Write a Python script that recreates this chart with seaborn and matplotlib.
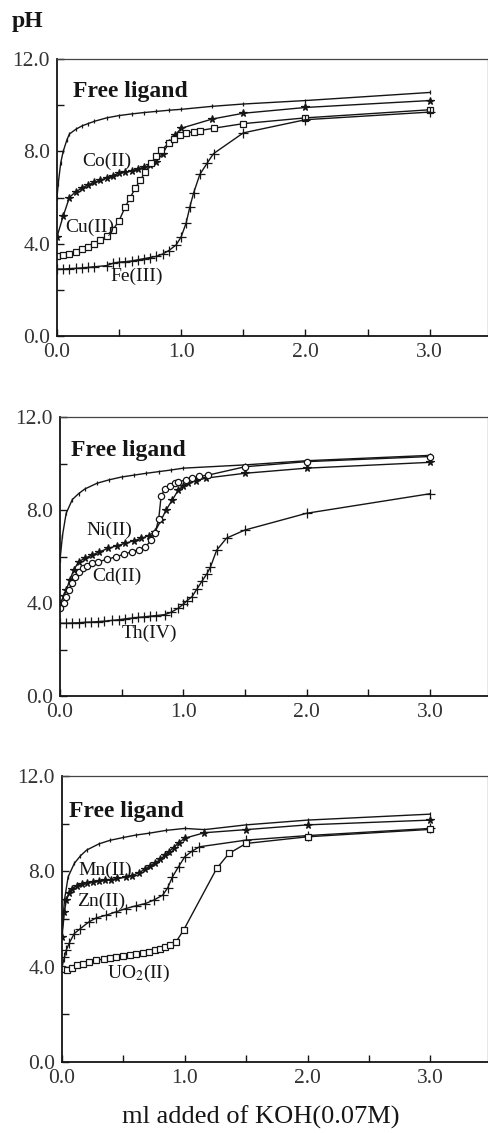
import matplotlib
matplotlib.use("Agg")
import matplotlib.pyplot as plt
from matplotlib.ticker import MultipleLocator
import seaborn as sns

# ---- panel 1: Co, Cu, Fe ----
free1_x = [0.0, 0.01, 0.03, 0.05, 0.08, 0.1, 0.15, 0.2, 0.25, 0.3, 0.4, 0.5, 0.6, 0.7, 0.8, 0.9, 1.0, 1.25, 1.5, 2.0, 3.0]
free1_y = [6.0, 6.6, 7.5, 8.0, 8.5, 8.75, 8.95, 9.1, 9.2, 9.3, 9.45, 9.55, 9.62, 9.68, 9.73, 9.78, 9.82, 9.95, 10.05, 10.2, 10.55]
co_x = [0.0, 0.05, 0.1, 0.15, 0.2, 0.25, 0.3, 0.35, 0.4, 0.45, 0.5, 0.55, 0.6, 0.65, 0.7, 0.75, 0.8, 0.85, 0.9, 0.95, 1.0, 1.25, 1.5, 2.0, 3.0]
co_y = [4.3, 5.2, 6.0, 6.25, 6.4, 6.55, 6.65, 6.75, 6.85, 6.95, 7.05, 7.1, 7.15, 7.25, 7.3, 7.4, 7.55, 7.9, 8.35, 8.7, 9.0, 9.4, 9.65, 9.9, 10.2]
cu_x = [0.0, 0.05, 0.1, 0.15, 0.2, 0.25, 0.3, 0.35, 0.4, 0.45, 0.5, 0.55, 0.59, 0.63, 0.67, 0.71, 0.76, 0.8, 0.84, 0.9, 0.94, 0.99, 1.04, 1.1, 1.15, 1.26, 1.5, 2.0, 3.0]
cu_y = [3.45, 3.5, 3.55, 3.65, 3.75, 3.85, 4.0, 4.15, 4.35, 4.6, 5.0, 5.6, 6.0, 6.4, 6.75, 7.1, 7.5, 7.8, 8.05, 8.35, 8.55, 8.7, 8.8, 8.85, 8.9, 9.0, 9.2, 9.45, 9.8]
fe_x = [0.0, 0.05, 0.1, 0.15, 0.2, 0.25, 0.3, 0.4, 0.45, 0.5, 0.55, 0.6, 0.65, 0.7, 0.75, 0.8, 0.85, 0.9, 0.96, 1.0, 1.04, 1.07, 1.1, 1.15, 1.21, 1.26, 1.5, 2.0, 3.0]
fe_y = [2.9, 2.9, 2.92, 2.93, 2.95, 2.97, 3.0, 3.05, 3.15, 3.2, 3.22, 3.25, 3.3, 3.35, 3.4, 3.45, 3.55, 3.7, 3.95, 4.3, 4.9, 5.6, 6.2, 7.0, 7.5, 7.9, 8.8, 9.37, 9.7]

# ---- panel 2: Ni, Cd, Th ----
free2_x = [0.0, 0.02, 0.05, 0.1, 0.15, 0.2, 0.3, 0.4, 0.5, 0.6, 0.7, 0.8, 0.9, 1.0, 1.5, 2.0, 3.0]
free2_y = [5.85, 6.9, 7.86, 8.45, 8.7, 8.9, 9.15, 9.3, 9.42, 9.5, 9.58, 9.65, 9.72, 9.8, 9.94, 10.12, 10.35]
ni_x = [0.0, 0.03, 0.05, 0.08, 0.11, 0.15, 0.2, 0.26, 0.32, 0.39, 0.46, 0.53, 0.6, 0.66, 0.72, 0.77, 0.82, 0.86, 0.91, 0.96, 1.0, 1.04, 1.1, 1.18, 1.5, 2.0, 3.0]
ni_y = [3.97, 4.3, 4.55, 5.0, 5.4, 5.77, 5.92, 6.06, 6.2, 6.35, 6.46, 6.57, 6.68, 6.78, 6.9, 7.07, 7.57, 8.0, 8.43, 8.86, 9.05, 9.15, 9.25, 9.37, 9.58, 9.8, 10.05]
cd_x = [0.0, 0.03, 0.05, 0.07, 0.095, 0.12, 0.15, 0.19, 0.22, 0.26, 0.31, 0.38, 0.45, 0.52, 0.58, 0.64, 0.69, 0.74, 0.77, 0.8, 0.82, 0.85, 0.89, 0.93, 0.96, 1.02, 1.07, 1.13, 1.2, 1.5, 2.0, 3.0]
cd_y = [3.77, 4.0, 4.27, 4.55, 4.84, 5.1, 5.34, 5.5, 5.6, 5.7, 5.77, 5.88, 5.98, 6.1, 6.2, 6.3, 6.4, 6.7, 7.0, 7.6, 8.6, 8.9, 9.05, 9.15, 9.2, 9.3, 9.37, 9.45, 9.5, 9.86, 10.08, 10.3]
th_x = [0.0, 0.05, 0.1, 0.15, 0.2, 0.25, 0.31, 0.36, 0.42, 0.48, 0.53, 0.58, 0.63, 0.68, 0.73, 0.78, 0.85, 0.9, 0.96, 1.0, 1.03, 1.07, 1.11, 1.15, 1.19, 1.22, 1.27, 1.35, 1.5, 2.0, 3.0]
th_y = [3.13, 3.13, 3.14, 3.15, 3.17, 3.18, 3.2, 3.22, 3.25, 3.28, 3.32, 3.35, 3.38, 3.4, 3.43, 3.46, 3.5, 3.6, 3.78, 3.95, 4.1, 4.27, 4.6, 4.93, 5.25, 5.55, 6.27, 6.79, 7.14, 7.86, 8.7]

# ---- panel 3: Mn, Zn, UO2 ----
free3_x = [0.0, 0.02, 0.05, 0.1, 0.15, 0.2, 0.3, 0.39, 0.5, 0.6, 0.71, 0.85, 1.0, 1.16, 1.5, 2.0, 3.0]
free3_y = [5.4, 6.8, 7.77, 8.33, 8.65, 8.89, 9.15, 9.3, 9.42, 9.52, 9.6, 9.72, 9.8, 9.75, 9.95, 10.15, 10.4]
mn_x = [0.0, 0.02, 0.035, 0.06, 0.08, 0.12, 0.16, 0.2, 0.25, 0.3, 0.35, 0.4, 0.45, 0.52, 0.57, 0.63, 0.68, 0.72, 0.76, 0.8, 0.84, 0.87, 0.91, 0.95, 1.0, 1.16, 1.5, 2.0, 3.0]
mn_y = [5.26, 6.3, 6.79, 7.1, 7.25, 7.4, 7.48, 7.52, 7.55, 7.58, 7.62, 7.65, 7.7, 7.75, 7.82, 7.95, 8.1, 8.22, 8.35, 8.5, 8.68, 8.82, 9.0, 9.2, 9.39, 9.62, 9.75, 9.95, 10.15]
zn_x = [0.0, 0.02, 0.035, 0.06, 0.1, 0.15, 0.22, 0.28, 0.36, 0.44, 0.52, 0.6, 0.68, 0.75, 0.82, 0.86, 0.9, 0.95, 1.0, 1.06, 1.12, 1.5, 2.0, 3.0]
zn_y = [4.0, 4.4, 4.7, 5.0, 5.39, 5.6, 5.88, 6.05, 6.16, 6.3, 6.44, 6.55, 6.65, 6.8, 7.0, 7.3, 7.77, 8.2, 8.61, 8.85, 9.03, 9.31, 9.5, 9.8]
uo2_x = [0.0, 0.04, 0.08, 0.12, 0.17, 0.22, 0.28, 0.34, 0.39, 0.44, 0.5, 0.55, 0.6, 0.66, 0.71, 0.76, 0.8, 0.84, 0.88, 0.93, 0.99, 1.26, 1.36, 1.5, 2.0, 3.0]
uo2_y = [3.9, 3.88, 3.95, 4.05, 4.13, 4.2, 4.27, 4.32, 4.37, 4.41, 4.45, 4.5, 4.55, 4.58, 4.62, 4.68, 4.75, 4.82, 4.9, 5.05, 5.53, 8.12, 8.75, 9.17, 9.45, 9.76]

sns.set_style("ticks")
plt.rcParams['font.family'] = ['Liberation Serif', 'DejaVu Serif']
plt.rcParams['mathtext.fontset'] = 'stix'

ink = '#151515'
W, H = 489, 1133
fig = plt.figure(figsize=(W / 100, H / 100), dpi=100)


def panel(left, top, bottom):
    ax = fig.add_axes([left / W, 1 - bottom / H, (488 - left) / W, (bottom - top) / H])
    ax.set_xlim(0, 3.47)
    ax.set_ylim(0, 12)
    ax.xaxis.set_major_locator(MultipleLocator(1.0))
    ax.xaxis.set_minor_locator(MultipleLocator(0.5))
    ax.yaxis.set_major_locator(MultipleLocator(4.0))
    ax.yaxis.set_minor_locator(MultipleLocator(2.0))
    ax.set_xticklabels([f"{v:.1f}" for v in ax.get_xticks()])
    ax.set_yticklabels([f"{v:.1f}" for v in ax.get_yticks()])
    ax.tick_params(which='both', direction='in', length=5, width=1, color=ink,
                   labelsize=15.5, labelcolor='#333333', pad=5)
    for s in ['left', 'bottom']:
        ax.spines[s].set_linewidth(1.3)
        ax.spines[s].set_color(ink)
    for s in ['top', 'right']:
        ax.spines[s].set_linewidth(0.9)
        ax.spines[s].set_color('#444444')
    ax.set_xlabel('')
    ax.set_ylabel('')
    return ax


def curve(ax, x, y, marker, ms, mfc=ink, mew=0.9):
    sns.lineplot(x=x, y=y, ax=ax, sort=False, estimator=None, color=ink, lw=1.0,
                 marker=marker, markersize=ms, markerfacecolor=mfc,
                 markeredgecolor=ink, markeredgewidth=mew)


lab = dict(fontsize=14, color=ink, va='center')
free = dict(fontsize=17, fontweight='bold', color=ink, va='center')

# panel 1
ax1 = panel(57, 59, 336)
curve(ax1, free1_x, free1_y, '|', 2.5)
curve(ax1, co_x, co_y, '*', 5.5)
curve(ax1, cu_x, cu_y, 's', 4, mfc='white')
curve(ax1, fe_x, fe_y, '+', 6.5)
ax1.text(0.13, 10.6, 'Free ligand', **free)
ax1.text(0.2, 7.55, 'Co(II)', **lab)
ax1.text(0.065, 4.7, 'Cu(II)', **lab)
ax1.text(0.43, 2.6, 'Fe(III)', **lab)

# panel 2
ax2 = panel(60, 417, 696)
curve(ax2, free2_x, free2_y, '|', 2.5)
curve(ax2, ni_x, ni_y, '*', 5.5)
curve(ax2, cd_x, cd_y, 'o', 4.5, mfc='white')
curve(ax2, th_x, th_y, '+', 6.5)
ax2.text(0.09, 10.58, 'Free ligand', **free)
ax2.text(0.21, 7.14, 'Ni(II)', **lab)
ax2.text(0.26, 5.13, 'Cd(II)', **lab)
ax2.text(0.5, 2.7, 'Th(IV)', **lab)

# panel 3
ax3 = panel(62, 776, 1062)
curve(ax3, free3_x, free3_y, '|', 2.5)
curve(ax3, mn_x, mn_y, '*', 5.5)
curve(ax3, zn_x, zn_y, '+', 6.5)
curve(ax3, uo2_x, uo2_y, 's', 4, mfc='white')
ax3.text(0.06, 10.5, 'Free ligand', **free)
ax3.text(0.13, 8.05, 'Mn(II)', **lab)
ax3.text(0.12, 6.72, 'Zn(II)', **lab)
ax3.text(0.37, 3.71, r'UO$_2$(II)', **lab)

fig.text(12 / W, 1 - 22 / H, 'pH', fontsize=17, fontweight='bold', color=ink, va='center', ha='left')
fig.text(261 / W, 1 - 1117 / H, 'ml added of KOH(0.07M)', fontsize=19, color=ink, va='center', ha='center')

fig.savefig('out.png', dpi=100, facecolor='white')
